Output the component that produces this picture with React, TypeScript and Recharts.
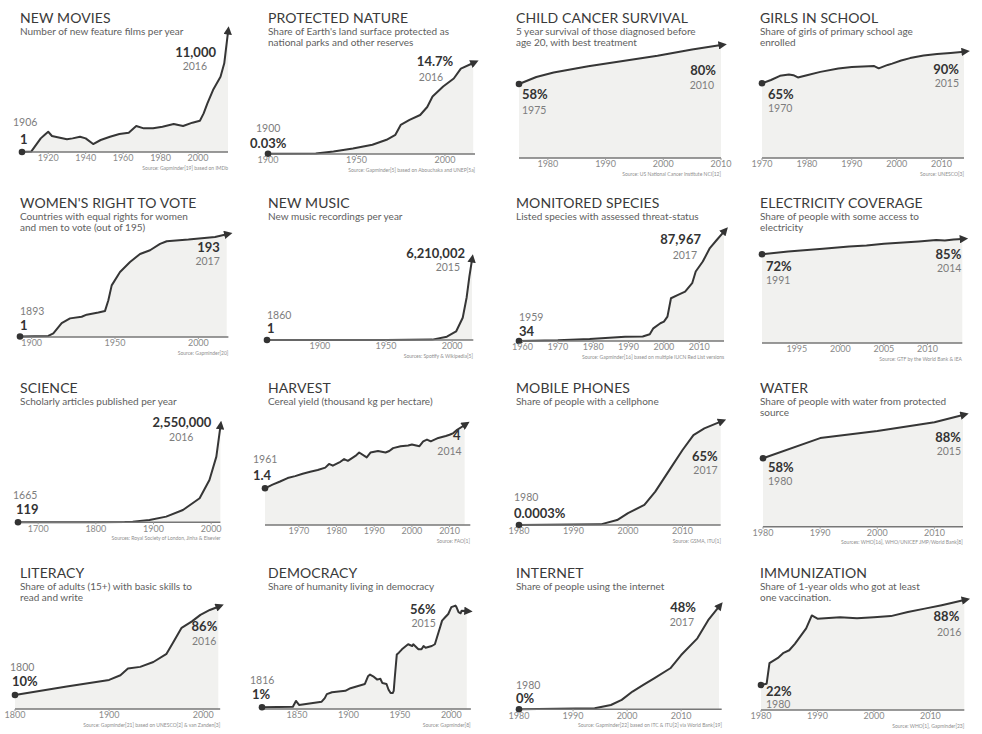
import React from 'react';
import { ComposedChart, Area, Line, XAxis, YAxis } from 'recharts';

// ---------- DATA ----------
const moviesYears = [1906, 1911, 1916, 1918, 1920, 1922, 1925, 1930, 1933, 1937, 1940, 1944, 1948, 1953, 1958, 1963, 1967, 1971, 1976, 1981, 1987, 1992, 1997, 2001, 2003, 2005, 2008, 2012, 2014, 2016];
const moviesValues = [1, 50, 1250, 1560, 1860, 1470, 1350, 1160, 1250, 1400, 1250, 730, 1100, 1400, 1650, 1770, 2380, 2170, 2170, 2320, 2570, 2380, 2690, 2870, 3540, 4460, 5680, 6900, 8130, 11000];
const moviesTicks = [1920, 1940, 1960, 1980, 2000];
const moviesLabels = ['1906', '1', '11,000', '2016'];

const natureYears = [1900, 1927, 1937, 1948, 1959, 1967, 1972, 1975, 1980, 1986, 1990, 1993, 1999, 2005, 2009, 2016];
const natureValues = [0.03, 0.1, 0.4, 0.9, 1.5, 2.3, 3.1, 4.7, 5.5, 6.3, 7.6, 9.3, 10.9, 12.2, 13.8, 14.7];
const natureTicks = [1900, 1950, 2000];
const natureLabels = ['1900', '0.03%', '14.7%', '2016'];

const cancerYears = [1975, 1978, 1981, 1987, 1993, 1999, 2005, 2010];
const cancerValues = [58, 62, 64.5, 68, 71, 74, 77.5, 80];
const cancerTicks = [1980, 1990, 2000, 2010];
const cancerLabels = ['1975', '58%', '80%', '2010'];

const girlsYears = [1970, 1972, 1974, 1976, 1977, 1978, 1980, 1983, 1987, 1990, 1995, 1996, 1998, 1999, 2001, 2003, 2006, 2009, 2012, 2015];
const girlsValues = [65, 67.6, 70.9, 72, 71.4, 69.6, 71.4, 74, 76.6, 77.9, 78.6, 76.8, 79.5, 80.5, 83, 84.9, 86.9, 88.2, 89, 90];
const girlsTicks = [1970, 1980, 1990, 2000, 2010];
const girlsLabels = ['1970', '65%', '90%', '2015'];

const voteYears = [1893, 1910, 1913, 1918, 1923, 1930, 1933, 1940, 1944, 1946, 1948, 1953, 1959, 1965, 1971, 1977, 1981, 1994, 2010, 2017];
const voteValues = [1, 2, 7, 26, 35, 38, 42, 46, 49, 69, 97, 122, 141, 156, 163, 175, 180, 183, 188, 193];
const voteTicks = [1900, 1950, 2000];
const voteLabels = ['1893', '1', '193', '2017'];

const musicYears = [1860, 1900, 1950, 1985, 1996, 2003, 2008, 2011, 2013, 2015];
const musicValues = [1, 100, 2000, 30000, 260000, 660000, 1730000, 3320000, 4900000, 6210002];
const musicTicks = [1900, 1950, 2000];
const musicLabels = ['1860', '1', '6,210,002', '2015'];

const speciesYears = [1959, 1970, 1979, 1989, 1994, 1996, 1997, 1999, 2000, 2001, 2002, 2004, 2006, 2008, 2009, 2011, 2013, 2015, 2017];
const speciesValues = [34, 540, 1600, 3500, 3600, 5400, 10200, 14300, 15600, 19600, 34400, 37100, 39800, 46500, 55900, 64000, 74800, 81500, 87967];
const speciesTicks = [1960, 1970, 1980, 1990, 2000, 2010];
const speciesLabels = ['1959', '34', '87,967', '2017'];

const electricityYears = [1991, 1994, 1998, 2001, 2003, 2005, 2009, 2011, 2012, 2013, 2014];
const electricityValues = [72, 74.3, 76.6, 78.6, 79.4, 80.9, 82.9, 84, 83.6, 84.4, 85];
const electricityTicks = [1995, 2000, 2005, 2010];
const electricityLabels = ['1991', '72%', '85%', '2014'];

const scienceYears = [1665, 1750, 1800, 1850, 1864, 1893, 1922, 1951, 1980, 1997, 2009, 2016];
const scienceValues = [119, 500, 2000, 8000, 17800, 62000, 151000, 329000, 640000, 1128000, 1752000, 2550000];
const scienceTicks = [1700, 1800, 1900, 2000];
const scienceLabels = ['1665', '119', '2,550,000', '2016'];

const harvestYears = [1961, 1963, 1965, 1967, 1969, 1971, 1973, 1975, 1977, 1978, 1979, 1981, 1982, 1983, 1985, 1986, 1988, 1989, 1991, 1993, 1994, 1995, 1997, 1999, 2000, 2002, 2003, 2004, 2005, 2007, 2009, 2010, 2011, 2012, 2014];
const harvestValues = [1.4, 1.55, 1.68, 1.82, 1.9, 2.0, 2.08, 2.15, 2.25, 2.4, 2.33, 2.49, 2.6, 2.53, 2.73, 2.87, 2.67, 2.87, 2.93, 2.87, 2.93, 3.05, 3.13, 3.16, 3.2, 3.13, 3.33, 3.4, 3.33, 3.47, 3.55, 3.6, 3.67, 3.8, 4.0];
const harvestTicks = [1970, 1980, 1990, 2000, 2010];
const harvestLabels = ['1961', '1.4', '4', '2014'];

const mobileYears = [1980, 1995, 1998, 2000, 2003, 2005, 2008, 2010, 2012, 2014, 2017];
const mobileValues = [0.0003, 0.4, 3.1, 7.5, 12.6, 21, 36.7, 47.2, 56.6, 60.8, 65];
const mobileTicks = [1980, 1990, 2000, 2010];
const mobileLabels = ['1980', '0.0003%', '65%', '2017'];

const waterYears = [1980, 1990, 2000, 2010, 2015];
const waterValues = [58, 72, 77, 83, 88];
const waterTicks = [1980, 1990, 2000, 2010];
const waterLabels = ['1980', '58%', '88%', '2015'];

const literacyYears = [1800, 1855, 1900, 1912, 1920, 1933, 1947, 1961, 1968, 1977, 1988, 1997, 2007, 2016];
const literacyValues = [10, 17.4, 23, 27, 32.8, 34.2, 38.4, 45.4, 55.2, 67.8, 73.4, 79, 83.2, 86];
const literacyTicks = [1800, 1900, 2000];
const literacyLabels = ['1800', '10%', '86%', '2016'];

const democracyYears = [1816, 1846, 1849, 1852, 1874, 1877, 1879, 1884, 1897, 1902, 1916, 1919, 1921, 1924, 1928, 1931, 1933, 1937, 1939, 1941, 1943, 1944, 1945, 1947, 1949, 1952, 1958, 1962, 1963, 1968, 1971, 1973, 1975, 1981, 1984, 1986, 1989, 1991, 1994, 1997, 2000, 2004, 2005, 2007, 2009, 2010, 2015];
const democracyValues = [1, 1.3, 4.6, 2.3, 4.2, 6.2, 8.5, 9.6, 10.4, 11.9, 14.3, 18.7, 19.7, 18.7, 16.8, 17.3, 14.8, 14.3, 11, 9.1, 9.1, 10.4, 17.7, 31.2, 32.2, 34.1, 37, 36, 37, 34.1, 34.1, 36, 35, 36, 37, 40.9, 46.6, 50.5, 52.4, 54.3, 58.2, 59.1, 58.2, 55.3, 54.7, 56.2, 56];
const democracyTicks = [1850, 1900, 1950, 2000];
const democracyLabels = ['1816', '1%', '56%', '2015'];

const internetYears = [1980, 1994, 1997, 1999, 2001, 2003, 2005, 2008, 2010, 2013, 2015, 2017];
const internetValues = [0, 0.45, 2, 4.4, 8.3, 11.4, 14.5, 19.2, 25.4, 33.2, 41.7, 48];
const internetTicks = [1980, 1990, 2000, 2010];
const internetLabels = ['1980', '0%', '48%', '2017'];

const immunYears = [1980, 1981, 1981.5, 1983, 1984, 1985, 1986, 1987, 1988, 1989, 1990, 1994, 1997, 2000, 2003, 2006, 2009, 2012, 2016];
const immunValues = [22, 23, 39, 43, 47, 49, 54, 60, 66, 76, 73.5, 74.7, 73.9, 74.7, 75.5, 78.7, 81.3, 84, 88];
const immunTicks = [1980, 1990, 2000, 2010];
const immunLabels = ['1980', '22%', '88%', '2016'];

// ---------- LAYOUT ----------
const ROW_TOP = [0, 185, 370, 555];
const PLOT_TOP = [28, 213, 398, 583];
const COL_X = [20, 268, 516, 760];
const PAD = 12;
const AXIS_H = 20;
const FONT = 'Lato, "Open Sans", "DejaVu Sans", sans-serif';

type Offs = { ydx: number; yDy: number; vdx: number; vDy: number };
type Panel = {
  title: string; sub: string[]; row: number; col: number;
  years: number[]; values: number[]; ticks: number[]; labels: string[];
  xd: [number, number]; xp: [number, number]; base: number; yd: [number, number];
  start: Offs; end: Offs; source: string;
};

const PANELS: Panel[] = [
  { title: 'NEW MOVIES', sub: ['Number of new feature films per year'], row: 0, col: 0,
    years: moviesYears, values: moviesValues, ticks: moviesTicks, labels: moviesLabels,
    xd: [1906, 2016], xp: [22, 228], base: 152, yd: [0, 11370],
    start: { ydx: -9, yDy: -26, vdx: -2, vDy: -8 }, end: { vdx: -12, vDy: 25, ydx: -21, yDy: 38 },
    source: 'Source: Gapminder[19] based on IMDb' },
  { title: 'PROTECTED NATURE', sub: ["Share of Earth's land surface protected as", 'national parks and other reserves'], row: 0, col: 1,
    years: natureYears, values: natureValues, ticks: natureTicks, labels: natureLabels,
    xd: [1900, 2017], xp: [268, 475], base: 154, yd: [0, 20.36],
    start: { ydx: -12, yDy: -22, vdx: -18, vDy: -6 }, end: { vdx: -20, vDy: 3, ydx: -30, yDy: 18 },
    source: 'Source: Gapminder[5] based on Abouchaka and UNEP[5a]' },
  { title: 'CHILD CANCER SURVIVAL', sub: ['5 year survival of those diagnosed before', 'age 20, with best treatment'], row: 0, col: 2,
    years: cancerYears, values: cancerValues, ticks: cancerTicks, labels: cancerLabels,
    xd: [1975, 2010], xp: [519, 721], base: 158, yd: [16.3, 89.6],
    start: { vdx: 3, vDy: 15, ydx: 3, yDy: 30 }, end: { vdx: -5, vDy: 30, ydx: -7, yDy: 44 },
    source: 'Source: US National Cancer Institute NCI[12]' },
  { title: 'GIRLS IN SCHOOL', sub: ['Share of girls of primary school age', 'enrolled'], row: 0, col: 3,
    years: girlsYears, values: girlsValues, ticks: girlsTicks, labels: girlsLabels,
    xd: [1970, 2015], xp: [762, 964], base: 158, yd: [5.9, 108.7],
    start: { vdx: 6, vDy: 16, ydx: 6, yDy: 29 }, end: { vdx: -5, vDy: 22, ydx: -5, yDy: 35 },
    source: 'Source: UNESCO[3]' },

  { title: "WOMEN'S RIGHT TO VOTE", sub: ['Countries with equal rights for women', 'and men to vote (out of 195)'], row: 1, col: 0,
    years: voteYears, values: voteValues, ticks: voteTicks, labels: voteLabels,
    xd: [1893, 2018], xp: [20, 228.4], base: 337, yd: [0, 233],
    start: { ydx: 0, yDy: -21, vdx: 0, vDy: -6 }, end: { vdx: -7, vDy: 18, ydx: -7, yDy: 31 },
    source: 'Source: Gapminder[20]' },
  { title: 'NEW MUSIC', sub: ['New music recordings per year'], row: 1, col: 1,
    years: musicYears, values: musicValues, ticks: musicTicks, labels: musicLabels,
    xd: [1860, 2016], xp: [266.7, 473], base: 340, yd: [0, 9858000],
    start: { ydx: 0, yDy: -21, vdx: 0, vDy: -7 }, end: { vdx: -7, vDy: -2, ydx: -12, yDy: 11 },
    source: 'Sources: Spotify & Wikipedia[5]' },
  { title: 'MONITORED SPECIES', sub: ['Listed species with assessed threat-status'], row: 1, col: 2,
    years: speciesYears, values: speciesValues, ticks: speciesTicks, labels: speciesLabels,
    xd: [1959, 2017], xp: [519.3, 724.3], base: 341, yd: [0, 103016],
    start: { ydx: 0, yDy: -20, vdx: 0, vDy: -5 }, end: { vdx: -23, vDy: 12, ydx: -27, yDy: 27 },
    source: 'Source: Gapminder[16] based on multiple IUCN Red List versions' },
  { title: 'ELECTRICITY COVERAGE', sub: ['Share of people with some access to', 'electricity'], row: 1, col: 3,
    years: electricityYears, values: electricityValues, ticks: electricityTicks, labels: electricityLabels,
    xd: [1991, 2014], xp: [761.7, 962], base: 343, yd: [-3.4, 107],
    start: { vdx: 4, vDy: 17, ydx: 4, yDy: 30 }, end: { vdx: -1, vDy: 20, ydx: -1, yDy: 33 },
    source: 'Source: GTF by the World Bank & IEA' },

  { title: 'SCIENCE', sub: ['Scholarly articles published per year'], row: 2, col: 0,
    years: scienceYears, values: scienceValues, ticks: scienceTicks, labels: scienceLabels,
    xd: [1665, 2016], xp: [18.3, 220.7], base: 522.3, yd: [0, 3315500],
    start: { ydx: -5, yDy: -23, vdx: -2, vDy: -8 }, end: { vdx: -9, vDy: 0, ydx: -27, yDy: 14 },
    source: 'Sources: Royal Society of London, Jinha & Elsevier' },
  { title: 'HARVEST', sub: ['Cereal yield (thousand kg per hectare)'], row: 2, col: 1,
    years: harvestYears, values: harvestValues, ticks: harvestTicks, labels: harvestLabels,
    xd: [1961, 2015.5], xp: [264.7, 470], base: 525, yd: [-0.107, 5.109],
    start: { ydx: -12, yDy: -25, vdx: -12, vDy: -8 }, end: { vdx: -4, vDy: 15, ydx: -3, yDy: 29.5 },
    source: 'Source: FAO[1]' },
  { title: 'MOBILE PHONES', sub: ['Share of people with a cellphone'], row: 2, col: 2,
    years: mobileYears, values: mobileValues, ticks: mobileTicks, labels: mobileLabels,
    xd: [1980, 2017], xp: [519.3, 721], base: 525, yd: [0, 79.9],
    start: { ydx: -5, yDy: -24, vdx: -5, vDy: -7 }, end: { vdx: -3, vDy: 39, ydx: -3, yDy: 52 },
    source: 'Source: GSMA, ITU[1]' },
  { title: 'WATER', sub: ['Share of people with water from protected', 'source'], row: 2, col: 3,
    years: waterYears, values: waterValues, ticks: waterTicks, labels: waterLabels,
    xd: [1980, 2015], xp: [762.7, 962.7], base: 526.7, yd: [10.6, 99.8],
    start: { vdx: 5, vDy: 14, ydx: 5, yDy: 27 }, end: { vdx: -2, vDy: 27, ydx: -2, yDy: 40 },
    source: 'Sources: WHO[16], WHO/UNICEF JMP/World Bank[8]' },

  { title: 'LITERACY', sub: ['Share of adults (15+) with basic skills to', 'read and write'], row: 3, col: 0,
    years: literacyYears, values: literacyValues, ticks: literacyTicks, labels: literacyLabels,
    xd: [1800, 2018], xp: [15, 220.2], base: 709, yd: [-2.05, 106.4],
    start: { ydx: -5, yDy: -24, vdx: -3, vDy: -9 }, end: { vdx: -1, vDy: 24, ydx: -2, yDy: 38 },
    source: 'Source: Gapminder[21] based on UNESCO[2] & van Zanden[3]' },
  { title: 'DEMOCRACY', sub: ['Share of humanity living in democracy'], row: 3, col: 1,
    years: democracyYears, values: democracyValues, ticks: democracyTicks, labels: democracyLabels,
    xd: [1816, 2019], xp: [261.7, 470.6], base: 709, yd: [0, 72],
    start: { ydx: -12, yDy: -23, vdx: -10, vDy: -8 }, end: { vdx: -31, vDy: 3, ydx: -31, yDy: 16 },
    source: 'Source: Gapminder[8]' },
  { title: 'INTERNET', sub: ['Share of people using the internet'], row: 3, col: 2,
    years: internetYears, values: internetValues, ticks: internetTicks, labels: internetLabels,
    xd: [1980, 2017.5], xp: [519.3, 722], base: 709.3, yd: [0, 59.1],
    start: { ydx: -3, yDy: -20, vdx: -3, vDy: -6 }, end: { vdx: -23, vDy: 5, ydx: -25, yDy: 19 },
    source: 'Source: Gapminder[22] based on ITC & ITU[2] via World Bank[19]' },
  { title: 'IMMUNIZATION', sub: ['Share of 1-year olds who got at least', 'one vaccination.'], row: 3, col: 3,
    years: immunYears, values: immunValues, ticks: immunTicks, labels: immunLabels,
    xd: [1980, 2016], xp: [761, 964.3], base: 710, yd: [2.6, 101.2],
    start: { vdx: 5, vDy: 11, ydx: 5, yDy: 23 }, end: { vdx: -5, vDy: 21, ydx: -3, yDy: 36 },
    source: 'Source: WHO[1], Gapminder[23]' },
];

function PanelView({ p }: { p: Panel }) {
  const data = p.years.map((y, i) => ({ year: y, v: p.values[i] }));
  const plotTop = PLOT_TOP[p.row];
  const w = p.xp[1] - p.xp[0] + 2 * PAD;
  const h = p.base - plotTop + PAD + AXIS_H;
  const last = data.length - 1;
  const rowTop = ROW_TOP[p.row];
  const left = COL_X[p.col];

  const renderDot = (props: any) => {
    const { cx, cy, index } = props;
    if (index === 0) {
      const s = p.start;
      return (
        <g key="start">
          <circle cx={cx} cy={cy} r={3.3} fill="#333" />
          <text x={cx + s.ydx} y={cy + s.yDy} fontSize={10.5} fill="#7d7d7d" fontFamily={FONT}>{p.labels[0]}</text>
          <text x={cx + s.vdx} y={cy + s.vDy} fontSize={13} fontWeight={700} fill="#333" fontFamily={FONT}>{p.labels[1]}</text>
        </g>
      );
    }
    if (index === last) {
      const e = p.end;
      return (
        <g key="end">
          <text x={cx + e.vdx} y={cy + e.vDy} textAnchor="end" fontSize={13} fontWeight={700} fill="#333" fontFamily={FONT}>{p.labels[2]}</text>
          <text x={cx + e.ydx} y={cy + e.yDy} textAnchor="end" fontSize={10.5} fill="#7d7d7d" fontFamily={FONT}>{p.labels[3]}</text>
        </g>
      );
    }
    return <g key={'d' + index} />;
  };

  return (
    <>
      <div style={{ position: 'absolute', left, top: rowTop + 11, fontSize: 14, lineHeight: '14px', color: '#3a3a3a', fontFamily: FONT, whiteSpace: 'nowrap', letterSpacing: 0.1 }}>
        {p.title}
      </div>
      <div style={{ position: 'absolute', left, top: rowTop + 26, fontSize: 10, lineHeight: '10.5px', color: '#5e5e5e', fontFamily: FONT, whiteSpace: 'nowrap' }}>
        {p.sub.map((s, i) => <div key={i}>{s}</div>)}
      </div>
      <div style={{ position: 'absolute', left: p.xp[0] - PAD, top: plotTop - PAD }}>
        <ComposedChart width={w} height={h} data={data} margin={{ top: PAD, right: PAD, left: PAD, bottom: 0 }}>
          <XAxis type="number" dataKey="year" domain={p.xd} ticks={p.ticks} interval={0} height={AXIS_H}
            axisLine={{ stroke: '#777', strokeWidth: 1.5 }} tickLine={{ stroke: '#999' }} tickSize={2} tickMargin={1}
            tick={{ fontSize: 9, fill: '#8a8a8a', fontFamily: FONT }} />
          <YAxis hide type="number" domain={p.yd} />
          <Area dataKey="v" type="linear" stroke="none" fill="#f1f1ef" fillOpacity={1} baseValue="dataMin" isAnimationActive={false} />
          <Line dataKey="v" type="linear" stroke="#363636" strokeWidth={2} strokeLinejoin="round" dot={renderDot} activeDot={false}
            markerEnd="url(#arrowHead)" isAnimationActive={false} />
        </ComposedChart>
      </div>
      <div style={{ position: 'absolute', left: p.xp[1] - 250, width: 250, top: p.base + 13.5, textAlign: 'right', fontSize: 5, lineHeight: '5.5px', color: '#8e8e8e', fontFamily: FONT, whiteSpace: 'nowrap' }}>
        {p.source}
      </div>
    </>
  );
}

export default function App() {
  return (
    <div style={{ position: 'absolute', left: 0, top: 0, width: 982, height: 734, background: '#ffffff', overflow: 'hidden' }}>
      <style>{'.recharts-surface{overflow:visible}'}</style>
      <svg width={0} height={0} style={{ position: 'absolute' }}>
        <defs>
          <marker id="arrowHead" viewBox="0 0 10 10" refX="3" refY="5" markerWidth="4.5" markerHeight="4.2" orient="auto">
            <path d="M0,0 L10,5 L0,10 z" fill="#333" />
          </marker>
        </defs>
      </svg>
      {PANELS.map((p, i) => <PanelView key={i} p={p} />)}
    </div>
  );
}
